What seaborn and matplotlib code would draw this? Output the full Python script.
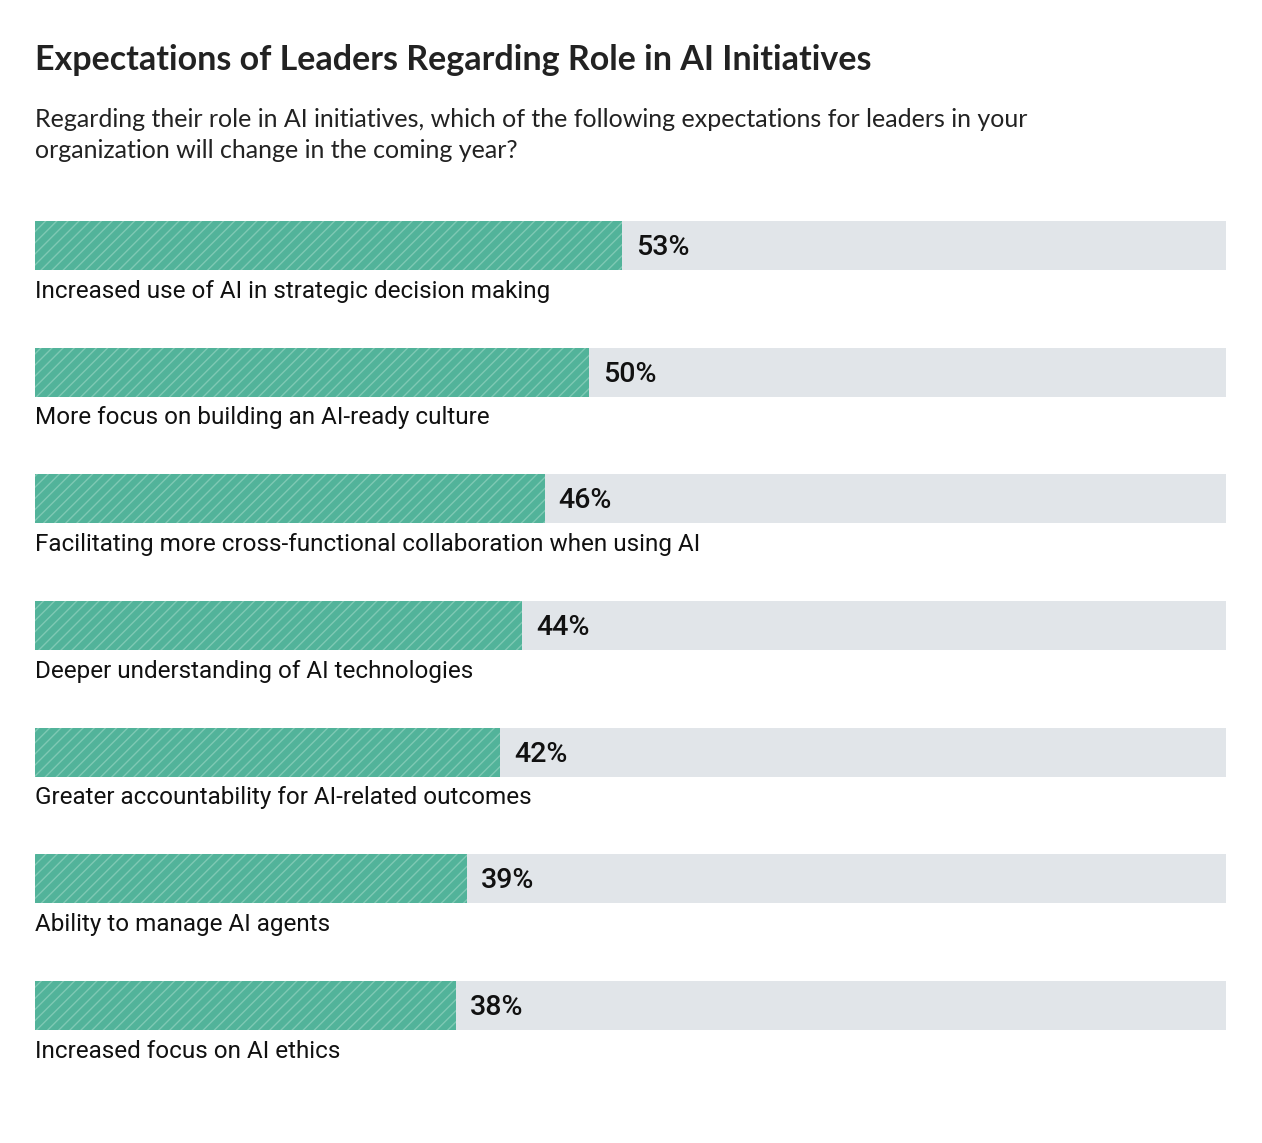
import pandas as pd
import matplotlib.pyplot as plt
import seaborn as sns

# chart data
categories = [
    "Increased use of AI in strategic decision making",
    "More focus on building an AI-ready culture",
    "Facilitating more cross-functional collaboration when using AI",
    "Deeper understanding of AI technologies",
    "Greater accountability for AI-related outcomes",
    "Ability to manage AI agents",
    "Increased focus on AI ethics",
]
shares = [53, 50, 46, 44, 42, 39, 38]
trackMax = 107.5  # grey background track runs to the edge of the axis

title = "Expectations of Leaders Regarding Role in AI Initiatives"
subtitle = ("Regarding their role in AI initiatives, which of the following expectations for leaders in your\n"
            "organization will change in the coming year?")

df = pd.DataFrame({"category": categories, "share": shares})
df["track"] = trackMax

sns.set_theme(style="white")
plt.rcParams['hatch.linewidth'] = 1.0
narrow = ['Roboto', 'DejaVu Sans']
headFont = ['Lato', 'DejaVu Sans']

fig = plt.figure(figsize=(12.62, 11.43), dpi=100)
ax = fig.add_axes([35 / 1262, 0.0649, (1226 - 35) / 1262, 0.7757])

barWidth = 0.387
sns.barplot(data=df, x="track", y="category", color="#e1e5e9", width=barWidth,
            saturation=1, linewidth=0, ax=ax, orient="h")
sns.barplot(data=df, x="share", y="category", color="#52b39a", width=barWidth,
            saturation=1, linewidth=0, edgecolor="#7fc9b4", hatch="///", ax=ax, orient="h")

ax.set_xlim(0, trackMax)
ax.set_ylim(len(categories) - 0.5, -0.5)
ax.axis("off")

for i, (cat, val) in enumerate(zip(categories, shares)):
    ax.annotate(f"{val}%", xy=(val, i), xytext=(14, -2), textcoords="offset pixels",
                ha="left", va="center", fontsize=20.5, fontweight="medium",
                color="#111111", family=narrow)
    ax.text(0, i + 0.36, cat, ha="left", va="center", fontsize=17.5,
            color="#111111", family=narrow)

fig.text(35 / 1262, 1 - 60 / 1143, title, ha="left", va="center",
         fontsize=24.5, fontweight="bold", color="#222222", family=headFont)
fig.text(35 / 1262, 1 - 135 / 1143, subtitle, ha="left", va="center",
         fontsize=18, color="#222222", family=headFont, linespacing=1.45)

fig.savefig("out.png", dpi=100, facecolor="white")
